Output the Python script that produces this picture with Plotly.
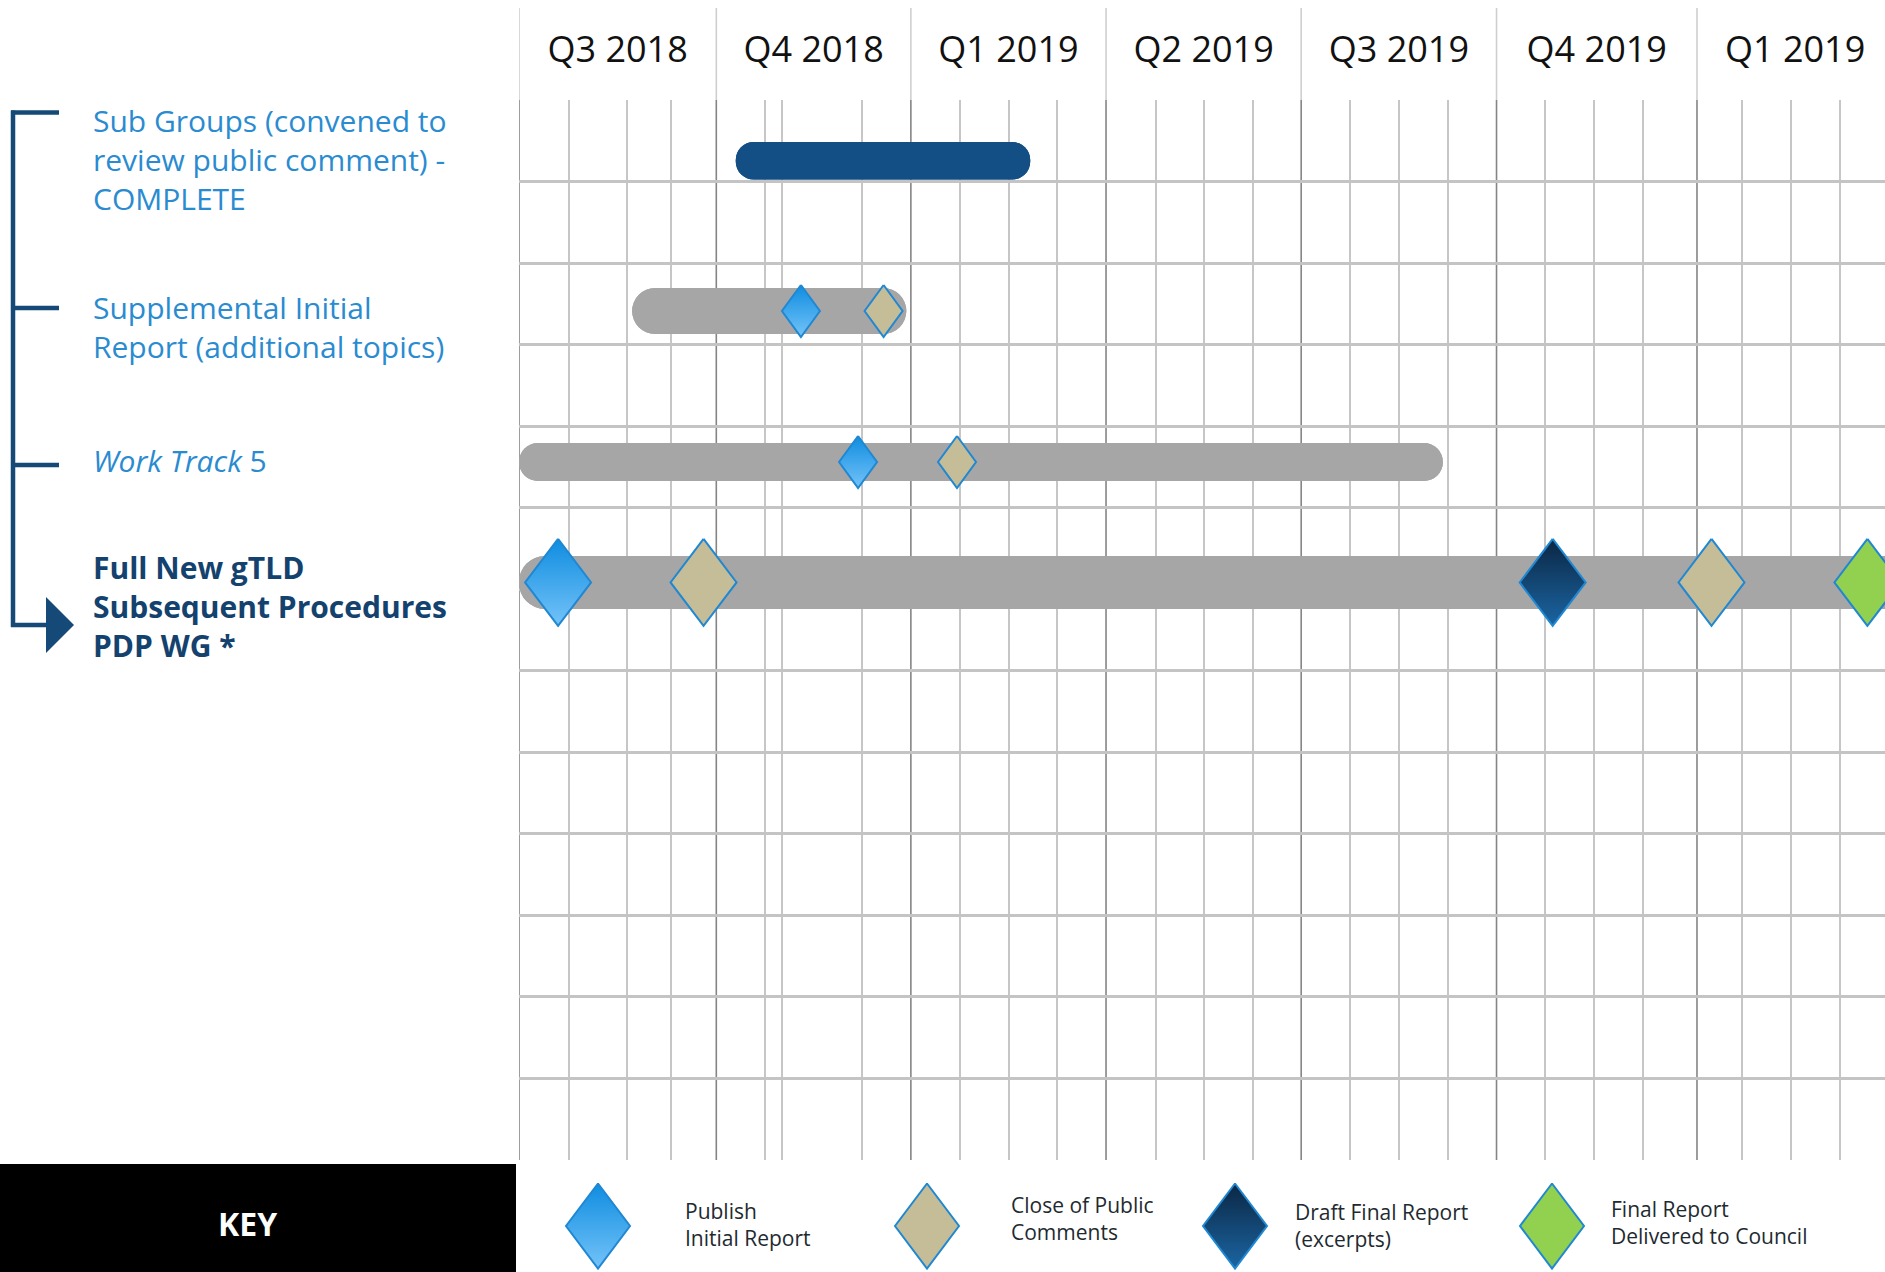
import plotly.graph_objects as go

# ---------------- data ----------------
quarter_labels = ["Q3 2018", "Q4 2018", "Q1 2019", "Q2 2019", "Q3 2019", "Q4 2019", "Q1 2019"]
# quarter boundaries and sub-divisions, in quarters from 1 Jul 2018 (as drawn in the source)
quarter_starts = [0, 1.005, 1.996, 2.990, 3.984, 4.979, 6.0]
quarter_ends = [1.005, 1.996, 2.990, 3.984, 4.979, 6.0, 7.0]
sub_lines = [0.254, 0.551, 0.772, 1.253, 1.339, 1.748, 2.247, 2.495, 2.742,
             3.242, 3.489, 3.737, 4.232, 4.484, 4.731, 5.226, 5.473, 5.725,
             6.229, 6.477, 6.728]

task_labels = [
    "Sub Groups (convened to<br>review public comment) -<br>COMPLETE",
    "Supplemental Initial<br>Report (additional topics)",
    "<i>Work Track</i> 5",
    "<b>Full New gTLD<br>Subsequent Procedures<br>PDP WG *</b>",
]
task_start = [1.104, 0.576, 0.0, 0.0]
task_end = [2.604, 1.973, 4.706, 7.3]
task_row = [0.745, 2.588, 4.44, 5.917]

milestone_task = [1, 1, 2, 2, 3, 3, 3, 3, 3]
milestone_x = [1.436, 1.857, 1.727, 2.231, 0.199, 0.940, 5.265, 6.074, 6.868]
milestone_kind = ["publish", "close", "publish", "close", "publish", "close", "draft", "close", "final"]

key_kinds = ["publish", "close", "draft", "final"]
key_labels = ["Publish<br>Initial Report", "Close of Public<br>Comments",
              "Draft Final Report<br>(excerpts)", "Final Report<br>Delivered to Council"]

# ---------------- styles / layout constants ----------------
W, H = 1885, 1272
GRID_L, GRID_T, GRID_B, HEAD_T = 519, 100, 1160, 8
N_ROWS = 13
Q_PX = 196.33
ROW_PX = (GRID_B - GRID_T) / N_ROWS
X_MAX = (W - GRID_L) / Q_PX
FONT = "Open Sans"

bar_colors = ["#134f85", "#a6a6a6", "#a6a6a6", "#a6a6a6"]
bar_px = [37.5, 46, 38, 53]
diamond_px = [(38, 52), (38, 52), (38, 52), (66, 87)]  # per task (w, h)
kind_style = {
    "publish": dict(grad=["#74c3f8", "#0f8de0"]),
    "close": dict(color="#c5bd97"),
    "draft": dict(grad=["#1b65a2", "#0b2744"]),
    "final": dict(color="#92d050"),
}
OUTLINE = "#2088d2"
LABEL_BLUE = "#2a8bd0"
NAVY = "#14426e"
BRACKET = "#154a78"


def px(x):
    return x / W


def py(y):
    return 1 - y / H


fig = go.Figure()

# ---------------- bars (two overlapping halves so both ends are rounded) ----------------
for i in range(len(task_start)):
    s, e = task_start[i], task_end[i]
    fig.add_trace(go.Bar(
        orientation="h", y=[task_row[i], task_row[i]],
        base=[e, s], x=[s - e, e - s],
        width=[bar_px[i] / ROW_PX] * 2,
        marker=dict(color=bar_colors[i], line=dict(width=0), cornerradius="50%"),
        showlegend=False, hoverinfo="skip", xaxis="x", yaxis="y",
    ))


def diamond(fig, cx, cy, w, h, kind, xaxis, yaxis):
    xs = [cx, cx + w / 2, cx, cx - w / 2, cx]
    ys = [cy - h / 2, cy, cy + h / 2, cy, cy - h / 2]
    st = kind_style[kind]
    kw = {}
    if "grad" in st:
        kw["fillgradient"] = dict(type="vertical",
                                  colorscale=[[0, st["grad"][0]], [1, st["grad"][1]]])
    else:
        kw["fillcolor"] = st["color"]
    fig.add_trace(go.Scatter(x=xs, y=ys, mode="lines", fill="toself",
                             line=dict(color=OUTLINE, width=2),
                             showlegend=False, hoverinfo="skip",
                             xaxis=xaxis, yaxis=yaxis, **kw))


# ---------------- milestones ----------------
for t, mx, k in zip(milestone_task, milestone_x, milestone_kind):
    w, h = diamond_px[t]
    diamond(fig, mx, task_row[t], w / Q_PX, h / ROW_PX, k, "x", "y")

# ---------------- key ----------------
key_cx = [598, 927, 1235, 1552]
key_tx = [683, 1009, 1293, 1609]
key_ty = [1224.5, 1218, 1225, 1222]
for i, k in enumerate(key_kinds):
    diamond(fig, key_cx[i], 1226, 64, 85, k, "x3", "y3")

annotations = []
for i, txt in enumerate(key_labels):
    annotations.append(dict(
        text=txt, x=px(key_tx[i]), y=py(key_ty[i]), xref="paper", yref="paper",
        xanchor="left", yanchor="middle", align="left", showarrow=False,
        font=dict(family=FONT, size=21, color="#1e2a30")))

annotations.append(dict(text="<b>KEY</b>", x=px(247), y=py(1223), xref="paper", yref="paper",
                        xanchor="center", yanchor="middle", showarrow=False,
                        font=dict(family=FONT, size=32, color="white")))

# ---------------- task labels ----------------
label_mid_y = [160, 327.5, 460, 606.5]
for i, txt in enumerate(task_labels):
    bold = i == 3
    annotations.append(dict(
        text=txt, x=px(91), y=py(label_mid_y[i]), xref="paper", yref="paper",
        xanchor="left", yanchor="middle", align="left", showarrow=False,
        font=dict(family=FONT, size=30, color=NAVY if bold else LABEL_BLUE)))

# ---------------- shapes ----------------
shapes = []
for q in quarter_starts:
    shapes.append(dict(type="line", xref="x", yref="paper", x0=q, x1=q,
                       y0=py(GRID_B), y1=py(GRID_T), layer="between",
                       line=dict(color="#858585", width=1.6)))
    shapes.append(dict(type="line", xref="x", yref="paper", x0=q, x1=q,
                       y0=py(GRID_T), y1=py(HEAD_T), layer="between",
                       line=dict(color="#cfcfcf", width=1.6)))

# key box
shapes.append(dict(type="rect", xref="paper", yref="paper", x0=0, x1=px(516),
                   y0=py(H), y1=py(1164), fillcolor="black", line=dict(width=0)))
# bracket
bw = 4.5
shapes.append(dict(type="line", xref="paper", yref="paper", x0=px(13), x1=px(13),
                   y0=py(110.5), y1=py(627), line=dict(color=BRACKET, width=bw)))
for yy in [112.5, 308, 465]:
    shapes.append(dict(type="line", xref="paper", yref="paper", x0=px(11), x1=px(59),
                       y0=py(yy), y1=py(yy), line=dict(color=BRACKET, width=bw)))
shapes.append(dict(type="line", xref="paper", yref="paper", x0=px(11), x1=px(47),
                   y0=py(625), y1=py(625), line=dict(color=BRACKET, width=bw)))
shapes.append(dict(type="path", xref="paper", yref="paper",
                   path=f"M {px(46)},{py(597)} L {px(74)},{py(625)} L {px(46)},{py(653)} Z",
                   fillcolor=BRACKET, line=dict(width=0)))

quarter_mids = [(a + b) / 2 for a, b in zip(quarter_starts, quarter_ends)]

fig.update_layout(
    width=W, height=H, margin=dict(l=0, r=0, t=0, b=0),
    paper_bgcolor="white", plot_bgcolor="rgba(0,0,0,0)",
    barmode="overlay", showlegend=False,
    xaxis=dict(domain=[px(GRID_L), 1], range=[0, X_MAX], side="top", anchor="y",
               tickmode="array", tickvals=quarter_mids, ticktext=quarter_labels,
               showgrid=False, zeroline=False, ticks="", showline=False,
               ticklabelstandoff=30,
               tickfont=dict(family=FONT, size=36, color="#111111"),
               minor=dict(tickmode="array", tickvals=sub_lines, showgrid=True,
                          gridcolor="#c6c6c6", gridwidth=1.5, ticks="")),
    yaxis=dict(domain=[py(GRID_B), py(GRID_T)], range=[N_ROWS, 0], anchor="x",
               tickmode="array", tickvals=list(range(N_ROWS + 1)),
               showgrid=True, gridcolor="#c4c4c4", gridwidth=2.5,
               showticklabels=False, ticks="", zeroline=False, showline=False),
    xaxis3=dict(domain=[0, 1], range=[0, W], anchor="y3", visible=False, fixedrange=True),
    yaxis3=dict(domain=[0, py(1165)], range=[H, 1165], anchor="x3", visible=False, fixedrange=True),
    shapes=shapes, annotations=annotations,
)

fig.write_html("out.html", config={"displayModeBar": False},
               post_script="document.body.style.margin='0';")
